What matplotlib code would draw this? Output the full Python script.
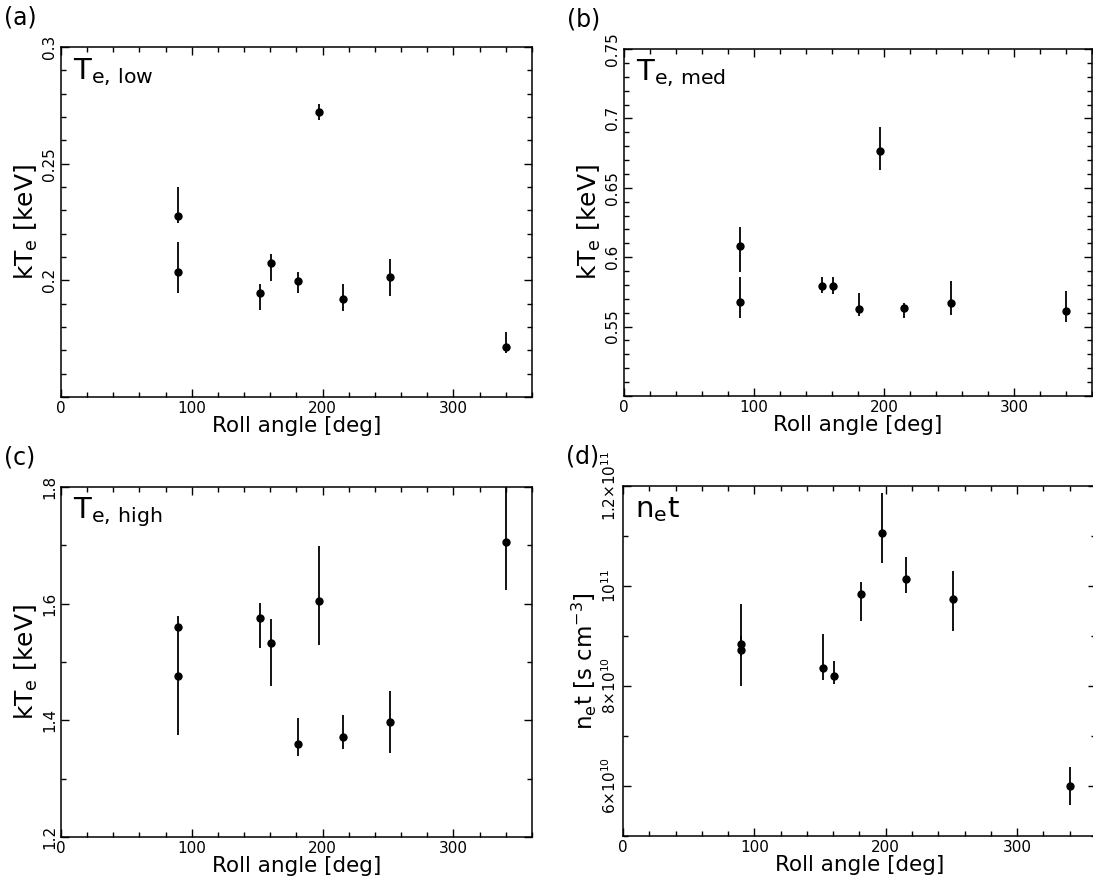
import matplotlib
matplotlib.use("Agg")
import matplotlib.pyplot as plt
from matplotlib.ticker import MultipleLocator, FixedLocator, FixedFormatter

plt.rcParams['font.family'] = ['DejaVu Sans']
plt.rcParams['mathtext.fontset'] = 'dejavusans'

# Roll angles of the observations [deg]
roll_angle = [89.5, 89.5, 152.5, 160.5, 181, 197, 215.5, 251.5, 340]

# (a) kTe low [keV]: value, upper bound, lower bound
te_low = [0.2277, 0.2034, 0.1944, 0.2075, 0.1996, 0.2721, 0.1922, 0.2013, 0.1716]
te_low_hi = [0.2400, 0.2164, 0.1983, 0.2113, 0.2037, 0.2754, 0.1983, 0.2090, 0.1780]
te_low_lo = [0.2247, 0.1947, 0.1874, 0.1997, 0.1944, 0.2687, 0.1869, 0.1935, 0.1687]

# (b) kTe med [keV]
te_med = [0.6081, 0.5680, 0.5793, 0.5789, 0.5625, 0.6764, 0.5637, 0.5670, 0.5615]
te_med_hi = [0.6214, 0.5856, 0.5860, 0.5858, 0.5740, 0.6940, 0.5670, 0.5827, 0.5755]
te_med_lo = [0.5894, 0.5560, 0.5742, 0.5735, 0.5574, 0.6630, 0.5565, 0.5582, 0.5536]

# (c) kTe high [keV]
te_high = [1.5605, 1.4759, 1.5754, 1.5320, 1.3590, 1.6046, 1.3706, 1.3970, 1.7060]
te_high_hi = [1.5780, 1.5200, 1.6012, 1.5732, 1.4043, 1.6985, 1.4100, 1.4510, 1.8100]
te_high_lo = [1.5200, 1.3757, 1.5245, 1.4587, 1.3397, 1.5290, 1.3510, 1.3440, 1.6235]

# (d) ionization timescale net [1e10 s cm^-3]
net = [8.846, 8.720, 8.366, 8.206, 9.840, 11.067, 10.133, 9.733, 6.006]
net_hi = [9.634, 9.000, 9.040, 8.506, 10.087, 11.867, 10.587, 10.300, 6.386]
net_lo = [8.600, 8.000, 8.120, 8.034, 9.307, 10.453, 9.853, 9.093, 5.620]

fig = plt.figure(figsize=(10.93, 8.88), dpi=100)

positions = [
    [0.0558, 0.5529, 0.4309, 0.3941],
    [0.5709, 0.5541, 0.4282, 0.3907],
    [0.0558, 0.0574, 0.4309, 0.3942],
    [0.5700, 0.0586, 0.4327, 0.3941],
]

panels = [
    ('(a)', r'$\mathregular{T_{e,\,low}}$', te_low, te_low_hi, te_low_lo, 1.0,
     (0.15, 0.30), [0.15, 0.2, 0.25, 0.3], ['', '0.2', '0.25', '0.3'], 0.01,
     r'kT$_\mathregular{e}$ [keV]', 18),
    ('(b)', r'$\mathregular{T_{e,\,med}}$', te_med, te_med_hi, te_med_lo, 1.0,
     (0.50, 0.75), [0.5, 0.55, 0.6, 0.65, 0.7, 0.75],
     ['', '0.55', '0.6', '0.65', '0.7', '0.75'], 0.01,
     r'kT$_\mathregular{e}$ [keV]', 18),
    ('(c)', r'$\mathregular{T_{e,\,high}}$', te_high, te_high_hi, te_high_lo, 1.0,
     (1.2, 1.8), [1.2, 1.4, 1.6, 1.8], ['1.2', '1.4', '1.6', '1.8'], 0.1,
     r'kT$_\mathregular{e}$ [keV]', 18),
    ('(d)', r'$\mathregular{n_e t}$', net, net_hi, net_lo, 1e10,
     (5e10, 1.2e11), [6e10, 8e10, 1e11, 1.2e11],
     [r'6$\times$10$^{10}$', r'8$\times$10$^{10}$', r'10$^{11}$',
      r'1.2$\times$10$^{11}$'], 1e10,
     r'n$_\mathregular{e}$t [s cm$^{-3}$]', 16.5),
]

for pos, (tag, name, val, hi, lo, scale, ylim, yt, ytl, yminor, ylab, ylfs) in zip(positions, panels):
    ax = fig.add_axes(pos)
    y = [v * scale for v in val]
    err_lo = [(v - l) * scale for v, l in zip(val, lo)]
    err_hi = [(h - v) * scale for v, h in zip(val, hi)]
    ax.errorbar(roll_angle, y, yerr=[err_lo, err_hi], fmt='o', color='black',
                markersize=5, elinewidth=1.3, capsize=0)

    ax.set_xlim(0, 360)
    ax.set_ylim(*ylim)
    ax.xaxis.set_major_locator(MultipleLocator(100))
    ax.xaxis.set_minor_locator(MultipleLocator(20))
    ax.yaxis.set_major_locator(FixedLocator(yt))
    ax.yaxis.set_major_formatter(FixedFormatter(ytl))
    ax.yaxis.set_minor_locator(MultipleLocator(yminor))
    ax.tick_params(which='both', direction='in', top=True, right=True,
                   width=1.0, labelsize=11)
    ax.tick_params(which='major', length=6, pad=3)
    ax.tick_params(which='minor', length=3.5)
    for lab in ax.get_yticklabels():
        lab.set_rotation(90)
        lab.set_va('center')
    for sp in ax.spines.values():
        sp.set_linewidth(1.1)

    ax.set_xlabel('Roll angle [deg]', fontsize=15.5, labelpad=0)
    ax.set_ylabel(ylab, fontsize=ylfs, labelpad=1)
    ax.text(0.025, 0.975, name, transform=ax.transAxes, fontsize=21,
            va='top', ha='left')
    fig.text(pos[0] - 0.0525, pos[1] + pos[3] + 0.02, tag, fontsize=17,
             va='bottom', ha='left')

fig.savefig('out.png', dpi=100)
